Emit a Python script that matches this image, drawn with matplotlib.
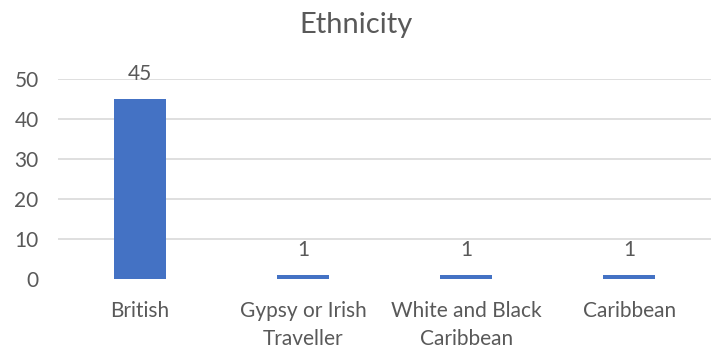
import matplotlib
matplotlib.use("Agg")
import matplotlib.pyplot as plt

categories = ["British", "Gypsy or Irish\nTraveller", "White and Black\nCaribbean", "Caribbean"]
counts = [45, 1, 1, 1]
yticks = [0, 10, 20, 30, 40, 50]

text_color = "#595959"
bar_color = "#4472C4"
grid_color = "#D9D9D9"

plt.rcParams["font.family"] = ["Lato", "DejaVu Sans"]

fig = plt.figure(figsize=(7.11, 3.51), dpi=100)
ax = fig.add_axes([0.0816, 0.2051, 0.9184, 0.5699])

x = list(range(len(categories)))
bars = ax.bar(x, counts, width=0.32, color=bar_color, zorder=3)

for xi, v in zip(x, counts):
    ax.annotate(str(v), (xi, v), xytext=(0, 14), textcoords="offset points",
                ha="center", va="baseline", fontsize=15, color=text_color)

ax.set_xlim(-0.5, len(categories) - 0.5)
ax.set_ylim(0, 50)
ax.set_yticks(yticks)
ax.set_xticks(x)
ax.set_xticklabels(categories, fontsize=15, color=text_color, linespacing=1.5)
ax.tick_params(axis="y", labelsize=15, labelcolor=text_color, length=0, pad=14)
ax.tick_params(axis="x", length=0, pad=16)

ax.yaxis.grid(True, color=grid_color, linewidth=1.2, zorder=0)
ax.set_axisbelow(True)
ax.get_ygridlines()[0].set_visible(False)
for s in ax.spines.values():
    s.set_visible(False)

fig.text(0.5, 0.928, "Ethnicity", ha="center", va="center", fontsize=21, color=text_color)

fig.savefig("out.png", dpi=100)
